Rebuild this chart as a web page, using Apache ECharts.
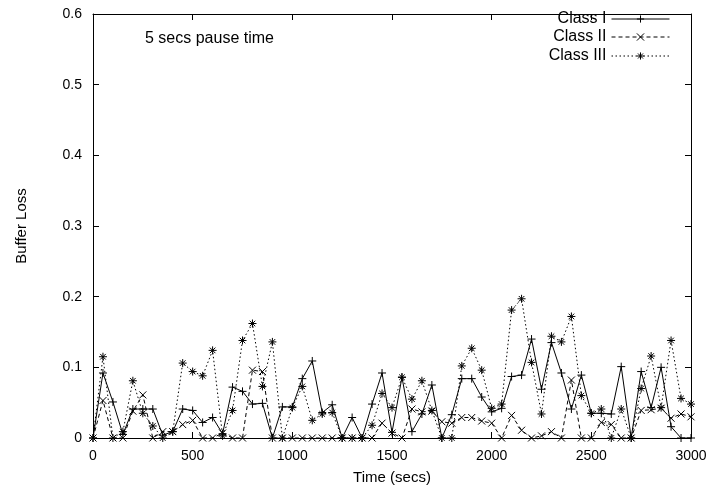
<!DOCTYPE html>
<html>
<head>
<meta charset="utf-8">
<script src="https://cdn.jsdelivr.net/npm/echarts@6/dist/echarts.min.js"></script>
<style>
html,body{margin:0;padding:0;background:#fff;}
#chart{width:715px;height:497px;}
</style>
</head>
<body>
<div id="chart"></div>
<script>
const times = [0,50,100,150,200,250,300,350,400,450,500,550,600,650,700,750,800,850,900,950,
  1000,1050,1100,1150,1200,1250,1300,1350,1400,1450,1500,1550,1600,1650,1700,1750,1800,1850,1900,1950,
  2000,2050,2100,2150,2200,2250,2300,2350,2400,2450,2500,2550,2600,2650,2700,2750,2800,2850,2900,2950,3000];

const classI = [0,0.092,0.051,0.005,0.041,0.041,0.041,0.004,0.009,0.041,0.039,0.022,0.029,0.006,0.072,0.066,0.048,0.049,0,0.044,
  0.044,0.084,0.109,0.036,0.047,0,0.029,0,0.048,0.092,0.008,0.086,0.009,0.034,0.075,0,0.033,0.084,0.084,0.058,
  0.037,0.042,0.087,0.089,0.140,0.069,0.135,0.092,0.041,0.089,0.035,0.035,0.034,0.101,0,0.094,0.043,0.100,0.016,0,0];

const classII = [0,0.053,0,0,0.038,0.061,0,0.009,0.009,0.019,0.025,0,0,0.007,0,0,0.096,0.094,0,0,
  0,0,0,0,0,0,0,0,0,0.021,0.007,0,0.041,0.037,0.038,0.023,0.021,0.029,0.029,0.024,
  0.021,0,0.032,0.011,0,0.003,0.009,0,0.082,0,0,0.022,0.019,0,0,0.039,0.040,0.042,0.028,0.034,0.030];

const classIII = [0,0.115,0,0.009,0.081,0.035,0.017,0,0.009,0.106,0.094,0.088,0.124,0.003,0.039,0.138,0.162,0.073,0.136,0,
  0.043,0.073,0.025,0.034,0.036,0,0,0,0.018,0.063,0.043,0.086,0.055,0.081,0.039,0,0,0.102,0.127,0.096,
  0.042,0.048,0.181,0.197,0.107,0.034,0.144,0.136,0.172,0.060,0.035,0.041,0,0.041,0,0.070,0.116,0.043,0.138,0.056,0.048];

const seriesNames = ['Class I','Class II','Class III'];
const xTickLabels = ['0','500','1000','1500','2000','2500','3000'];
const yTickLabels = ['0','0.1','0.2','0.3','0.4','0.5','0.6'];
const annotation = '5 secs pause time';

const FONT = 'Liberation Sans, Arial, Helvetica, sans-serif';
const plusPath = 'path://M0,5L10,5M5,0L5,10';
const crossPath = 'path://M0,0L10,10M10,0L0,10';
const starPath = 'path://M0,5L10,5M5,0L5,10M1.5,1.5L8.5,8.5M8.5,1.5L1.5,8.5';

const chart = echarts.init(document.getElementById('chart'), null, {renderer: 'canvas'});

function mk(name, vals, symbol, lineType, size) {
  return {
    name: name,
    type: 'line',
    data: times.map((t, i) => [t, vals[i]]),
    symbol: symbol,
    symbolSize: size,
    showSymbol: true,
    clip: false,
    animation: false,
    lineStyle: {color: '#000', width: 1, type: lineType},
    itemStyle: {color: '#000', borderColor: '#000', borderWidth: 1, borderType: 'solid'},
    emphasis: {disabled: true}
  };
}

function legendFor(name, top) {
  return {
    data: [name],
    right: 45,
    top: top,
    orient: 'vertical',
    align: 'right',
    itemWidth: 58,
    itemHeight: 9,
    padding: 0,
    selectedMode: false,
    lineStyle: {width: 1},
    itemStyle: {borderType: 'solid', borderWidth: 1, borderColor: '#000', color: '#000'},
    textStyle: {fontFamily: FONT, fontSize: 16, color: '#000'}
  };
}

const option = {
  backgroundColor: '#fff',
  animation: false,
  grid: {left: 93, right: 24, top: 14, bottom: 59, containLabel: false},
  legend: [legendFor(seriesNames[0], 11), legendFor(seriesNames[1], 29), legendFor(seriesNames[2], 48)],
  graphic: [{
    type: 'text', left: 145, top: 31,
    style: {text: annotation, font: '16px ' + FONT, fill: '#000'}
  }],
  xAxis: [{
    type: 'value', min: 0, max: 3000, interval: 500,
    name: 'Time (secs)', nameLocation: 'middle', nameGap: 32,
    nameTextStyle: {fontFamily: FONT, fontSize: 15, color: '#000'},
    axisLine: {show: true, lineStyle: {color: '#000', width: 1}},
    axisTick: {show: true, inside: true, length: 6, lineStyle: {color: '#000'}},
    axisLabel: {fontFamily: FONT, fontSize: 14, color: '#000', margin: 11,
      formatter: function (v) { return xTickLabels[Math.round(v / 500)]; }},
    splitLine: {show: false}
  }, {
    type: 'value', position: 'top', min: 0, max: 3000, interval: 500,
    axisLine: {show: true, onZero: false, lineStyle: {color: '#000', width: 1}},
    axisTick: {show: true, inside: true, length: 6, lineStyle: {color: '#000'}},
    axisLabel: {show: false}, splitLine: {show: false}
  }],
  yAxis: [{
    type: 'value', min: 0, max: 0.6, interval: 0.1,
    name: 'Buffer Loss', nameLocation: 'middle', nameGap: 64,
    nameTextStyle: {fontFamily: FONT, fontSize: 15, color: '#000'},
    axisLine: {show: true, lineStyle: {color: '#000', width: 1}},
    axisTick: {show: true, inside: true, length: 6, lineStyle: {color: '#000'}},
    axisLabel: {fontFamily: FONT, fontSize: 14, color: '#000', margin: 11,
      formatter: function (v) { return yTickLabels[Math.round(v * 10)]; }},
    splitLine: {show: false}
  }, {
    type: 'value', position: 'right', min: 0, max: 0.6, interval: 0.1,
    axisLine: {show: true, onZero: false, lineStyle: {color: '#000', width: 1}},
    axisTick: {show: true, inside: true, length: 6, lineStyle: {color: '#000'}},
    axisLabel: {show: false}, splitLine: {show: false}
  }],
  series: [
    mk(seriesNames[0], classI, plusPath, 'solid', 8),
    mk(seriesNames[1], classII, crossPath, [4, 3], 7),
    mk(seriesNames[2], classIII, starPath, [1.5, 2.5], 8)
  ]
};
chart.setOption(option);
</script>
</body>
</html>
